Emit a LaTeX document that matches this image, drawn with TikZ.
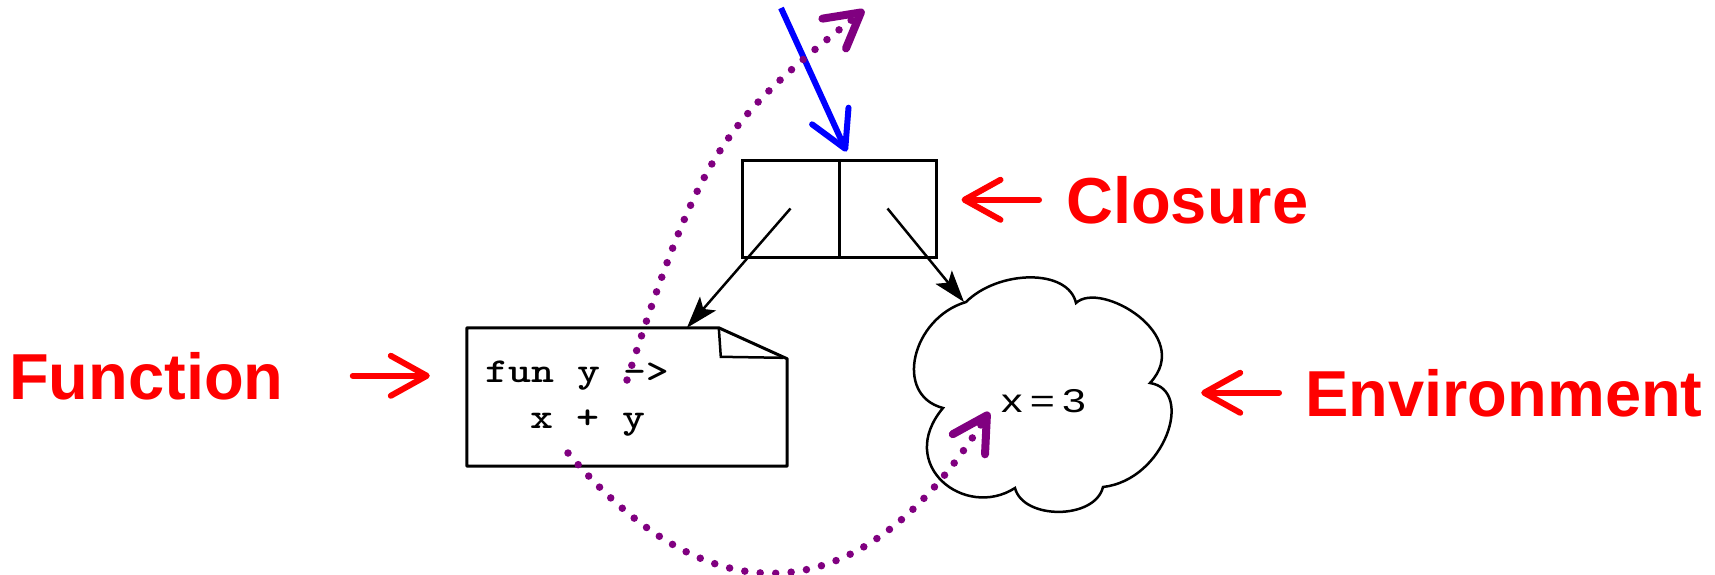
\documentclass[tikz,border=0pt]{standalone}
\usepackage{fontspec}
\setmainfont{Liberation Sans}
\usetikzlibrary{arrows.meta,calc}
\definecolor{ppl}{RGB}{128,0,128}
\begin{document}
\begin{tikzpicture}[x=1pt,y=-1pt,
  lbl/.style={font=\fontsize{65}{70}\selectfont\bfseries, text=red, inner sep=0pt, anchor=base west},
  redarr/.style={red, line width=6pt, line cap=round, -{Straight Barb[length=36pt,width=40pt,round]}},
  cell/.style={draw, line width=3pt, minimum width=97pt, minimum height=97pt, inner sep=0pt},
  blkarr/.style={line width=2.5pt, -{Stealth[length=32pt,width=21pt,inset=7pt]}},
  bluearr/.style={blue, line width=6pt, -{Straight Barb[length=36pt,width=40pt,round]}},
  pdot/.style={ppl, line width=7.5pt, line cap=round, dash pattern=on 0pt off 15.5pt,
    -{Straight Barb[length=34pt,width=38pt,line width=8pt,round]}},
  code/.style={font=\fontsize{35}{40}\selectfont\ttfamily\bfseries, inner sep=0pt, anchor=base west},
]
\fill[white] (0,0) rectangle (1715,574);
\useasboundingbox (0,0) rectangle (1715,574);

% closure box
\node[cell] (cl) at (790.5,208.5) {};
\node[cell] (cr) at (887.5,208.5) {};

% function box (dog-eared page)
\node[draw=none, minimum width=320pt, minimum height=138pt, inner sep=0pt] (fun) at (627,397) {};
\draw[line width=3pt, line join=round] (fun.south west) -- (fun.north west) -- ++(252,0) coordinate (fold)
  -- ($(fun.north east)+(0,31)$) -- (fun.south east) -- cycle;
\draw[line width=2.5pt] (fold) -- ++(2,29) -- ($(fun.north east)+(-4,30)$);
\node[code] (code1) at (485,382) {\scalebox{1.25}[1]{fun y ->}};
\node[code] (code2) at (530,428) {\scalebox{1.25}[1]{x + y}};

% environment cloud
\node[draw=none, minimum width=255pt, minimum height=230pt, inner sep=0pt] (env) at (1045.5,397) {};
\draw[line width=2.5pt] (943,408) .. controls (893,395) and (912,318) .. (966,302)
  .. controls (998,270) and (1068,268) .. (1076,303)
  .. controls (1100,280) and (1195,335) .. (1150,383)
  .. controls (1195,390) and (1165,480) .. (1103,487)
  .. controls (1095,520) and (1023,520) .. (1015,488)
  .. controls (965,520) and (895,465) .. cycle;
\node[font=\fontsize{33}{36}\selectfont, inner sep=0pt, anchor=base west] (xval) at (1001,412)
  {\scalebox{1.3}[1]{x\hspace{5.5pt}=\hspace{5.5pt}3}};
\coordinate (envin) at (964,302);

% labels
\node[lbl] (flbl) at (9,399) {Function};
\node[lbl] (clbl) at (1066,223) {Closure};
\node[lbl] (elbl) at (1305,416) {Environment};

% red arrows
\draw[redarr, shorten <=69pt, shorten >=37pt] (flbl.east) -- (flbl.east -| fun.west);
\draw[redarr, shorten <=27pt, shorten >=24pt] (clbl.west) -- (clbl.west -| cr.east);
\draw[redarr, shorten <=26pt, shorten >=28pt] (elbl.west) -- (elbl.west -| env.east);

% black pointers
\draw[blkarr] (cl.center) -- (fun);
\draw[blkarr] (cr.center) -- (envin);

% blue arrow
\coordinate (bsrc) at (781,8);
\draw[bluearr] (bsrc) -- ([xshift=6pt,yshift=7pt]cl.north east);

% purple dotted arrows
\coordinate (p1s) at (627,380);
\coordinate (p1e) at (864,10);
\draw[pdot] (p1s) .. controls (701,152) and (721,123) .. (p1e);
\coordinate (p2s) at (568,453);
\coordinate (p2e) at (989,412);
\draw[pdot] (p2s) .. controls (730,643) and (878,590) .. (p2e);
\end{tikzpicture}
\end{document}
